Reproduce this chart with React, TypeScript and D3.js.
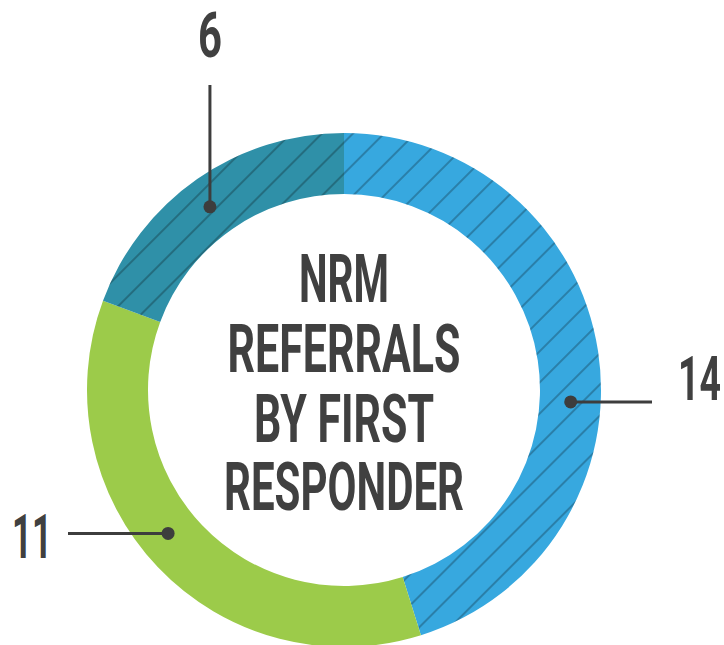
import React, { useLayoutEffect, useRef, useState } from "react";
import * as d3 from "d3";

const categories = ["Responder A", "Responder B", "Responder C"];
const values = [14, 11, 6];
const colors = ["#37A8DF", "#9CCB4A", "#2F90A8"];
const hatched = [true, false, true];
const titleLines = ["NRM", "REFERRALS", "BY FIRST", "RESPONDER"];

const W = 724;
const H = 645;
const cx = 344;
const cy = 390;
const outerR = 257;
const innerR = 196;
const midR = 227;

// callout layout (annotation placement)
const callouts = [
  { angleDeg: 93, kind: "right", lineEnd: 652, textX: 678, textW: 43, baseline: 400 },
  { angleDeg: 230.8, kind: "left", lineEnd: 68, textX: 52, textW: 40, baseline: 558 },
  { angleDeg: 323.8, kind: "up", lineEnd: 85, textX: 210, textW: 24, baseline: 57 },
];

const titleWidths = [90, 233, 180, 240];
const titleBaselines = [302, 372, 442, 510];

const font = "'Liberation Sans Narrow', 'Roboto', 'DejaVu Sans Condensed', sans-serif";

function FitText(props: {
  x: number;
  y: number;
  width: number;
  anchor: "start" | "middle" | "end";
  size: number;
  children: string;
}) {
  const ref = useRef<SVGTextElement>(null);
  const [sx, setSx] = useState(1);
  useLayoutEffect(() => {
    if (ref.current) {
      const w = ref.current.getComputedTextLength();
      if (w > 0) setSx(props.width / w);
    }
  }, [props.width, props.children]);
  return (
    <g transform={`translate(${props.x},${props.y}) scale(${sx},1)`}>
      <text
        ref={ref}
        x={0}
        y={0}
        textAnchor={props.anchor}
        fontFamily={font}
        fontWeight={700}
        fontSize={props.size}
        fill="#404040"
      >
        {props.children}
      </text>
    </g>
  );
}

export default function App() {
  const pie = d3
    .pie<number>()
    .sort(null)
    .value((d) => d)
    .startAngle(0)
    .endAngle(2 * Math.PI);
  const arcs = pie(values);
  const arcGen = d3.arc<d3.PieArcDatum<number>>().innerRadius(innerR).outerRadius(outerR);

  return (
    <svg
      width={W}
      height={H}
      style={{ position: "absolute", left: 0, top: 0, background: "#fff" }}
    >
      <defs>
        <pattern
          id="hatch"
          patternUnits="userSpaceOnUse"
          width={22}
          height={22}
          patternTransform="rotate(45)"
        >
          <line x1={1} y1={0} x2={1} y2={22} stroke="rgba(0,0,0,0.3)" strokeWidth={1.6} />
        </pattern>
      </defs>
      <g transform={`translate(${cx},${cy})`}>
        {arcs.map((a, i) => (
          <g key={categories[i]}>
            <path d={arcGen(a) || ""} fill={colors[i]} />
            {hatched[i] && <path d={arcGen(a) || ""} fill="url(#hatch)" />}
          </g>
        ))}
      </g>
      <text
        textAnchor="middle"
        fontFamily={font}
        fontWeight={700}
        fontSize={67}
        fill="#404040"
      >
        {titleLines.map((t, i) => (
          <tspan
            key={t}
            x={cx}
            y={titleBaselines[i]}
            textLength={titleWidths[i]}
            lengthAdjust="spacingAndGlyphs"
          >
            {t}
          </tspan>
        ))}
      </text>
      {callouts.map((c, i) => {
        const ang = (c.angleDeg * Math.PI) / 180;
        const dx = cx + midR * Math.sin(ang);
        const dy = cy - midR * Math.cos(ang);
        let x2 = dx;
        let y2 = dy;
        if (c.kind === "up") y2 = c.lineEnd;
        else x2 = c.lineEnd;
        const anchor = c.kind === "right" ? "start" : c.kind === "left" ? "end" : "middle";
        return (
          <g key={i}>
            <line x1={dx} y1={dy} x2={x2} y2={y2} stroke="#3d3d3d" strokeWidth={3} />
            <circle cx={dx} cy={dy} r={6.5} fill="#3d3d3d" />
            <FitText x={c.textX} y={c.baseline} width={c.textW} anchor={anchor} size={62}>
              {String(values[i])}
            </FitText>
          </g>
        );
      })}
    </svg>
  );
}
